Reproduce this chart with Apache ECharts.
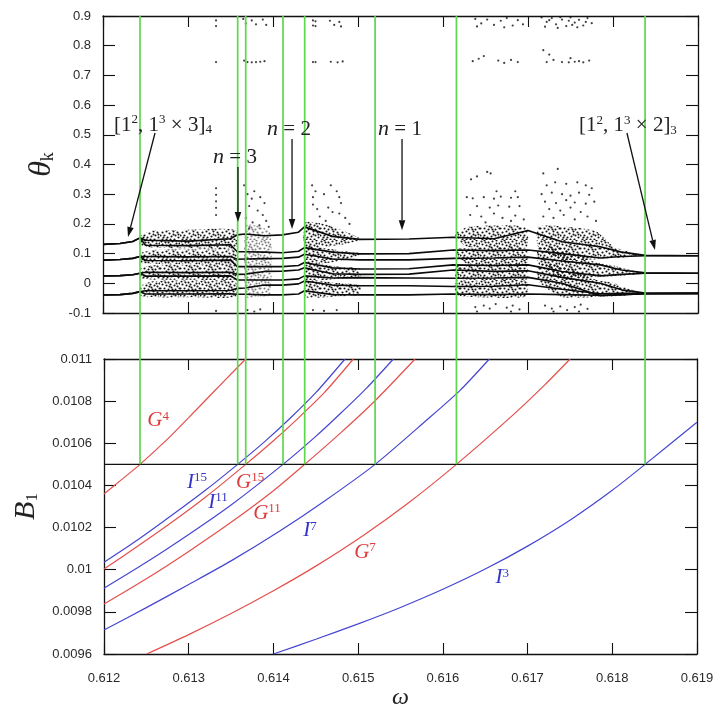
<!DOCTYPE html>
<html><head><meta charset="utf-8">
<script src="https://cdn.jsdelivr.net/npm/echarts@6/dist/echarts.min.js"></script>
<style>html,body{margin:0;padding:0;background:#fff}#c{width:721px;height:711px}</style>
</head><body><div id="c"></div>
<script>
// ---------------- DATA ----------------
const omegaRange = [0.612, 0.619];
const thetaRange = [-0.1, 0.9];
const bRange = [0.0096, 0.011];
const bThreshold = 0.0105;
const greenOmega = [0.612425, 0.613578, 0.613673, 0.614113, 0.614369, 0.6152, 0.61616, 0.618387];

// bottom panel curves [omega, B1]
const curveG4  = [[0.612,0.010359],[0.6122,0.010425],[0.612425,0.0105],[0.61274,0.010616],[0.613,0.010722],[0.613133,0.010777],[0.6134,0.010888],[0.613673,0.011]];
const curveI15 = [[0.612,0.010035],[0.6124,0.010142],[0.6128,0.010258],[0.6132,0.010378],[0.613578,0.0105],[0.6139,0.010609],[0.6142,0.01072],[0.6145,0.01084],[0.614845,0.011]];
const curveG15 = [[0.612,0.010003],[0.6124,0.010112],[0.6128,0.010225],[0.6132,0.010345],[0.613673,0.0105],[0.614,0.010612],[0.6143,0.010722],[0.6146,0.01084],[0.614943,0.011]];
const curveI11 = [[0.612,0.009912],[0.6125,0.010035],[0.613,0.010167],[0.6135,0.010307],[0.614113,0.0105],[0.6145,0.010633],[0.6148,0.010745],[0.6151,0.010862],[0.615416,0.011]];
const curveG11 = [[0.612,0.009837],[0.6125,0.009957],[0.613,0.010087],[0.6135,0.010225],[0.614,0.010375],[0.614369,0.0105],[0.6148,0.010652],[0.6152,0.010802],[0.615672,0.011]];
const curveI7  = [[0.612,0.009714],[0.6125,0.00982],[0.613,0.00993],[0.6135,0.010042],[0.61408,0.010185],[0.6146,0.010325],[0.6152,0.0105],[0.6158,0.010707],[0.6162,0.01085],[0.616549,0.011]];
const curveG7  = [[0.612504,0.0096],[0.613,0.009692],[0.6135,0.009792],[0.614,0.0099],[0.6145,0.010017],[0.615069,0.010165],[0.6156,0.010319],[0.61616,0.0105],[0.6168,0.010724],[0.6172,0.010876],[0.617502,0.011]];
const curveI3  = [[0.614,0.0096],[0.6145,0.00967],[0.615,0.009743],[0.6155,0.009821],[0.616,0.009907],[0.6165,0.010003],[0.617,0.010112],[0.6175,0.010235],[0.618,0.010377],[0.618387,0.0105],[0.619,0.0107]];

// top panel: periodic-orbit branches theta_k at these omega knots
const branchKnots = [0.612,0.6122,0.61235,0.612435,0.6125,0.6130,0.6135,0.61358,0.61367,0.6139,0.61411,0.6143,0.61437,0.6147,0.61502,0.6156,0.61612,0.6166,0.6170,0.6174,0.61785,0.6181,0.61838,0.619];
const branch1 = [0.131,0.134,0.141,0.153,0.145,0.142,0.150,0.163,0.166,0.160,0.163,0.172,0.190,0.158,0.148,0.149,0.155,0.150,0.178,0.140,0.123,0.105,0.094,0.093];
const branch2 = [0.131,0.134,0.141,0.153,0.128,0.127,0.130,0.106,0.106,0.105,0.103,0.108,0.120,0.105,0.099,0.100,0.112,0.110,0.112,0.100,0.085,0.090,0.093,0.093];
const branch3 = [0.078,0.080,0.084,0.090,0.090,0.089,0.090,0.081,0.082,0.083,0.084,0.088,0.098,0.082,0.079,0.079,0.084,0.085,0.088,0.075,0.062,0.045,0.035,0.034];
const branch4 = [0.078,0.080,0.084,0.090,0.077,0.076,0.078,0.056,0.056,0.056,0.056,0.060,0.070,0.052,0.048,0.049,0.062,0.060,0.062,0.040,0.025,0.030,0.034,0.034];
const branch5 = [0.025,0.026,0.029,0.034,0.037,0.036,0.037,0.030,0.031,0.040,0.041,0.045,0.052,0.032,0.030,0.031,0.045,0.040,0.042,0.020,0.000,-0.022,-0.033,-0.034];
const branch6 = [0.025,0.026,0.029,0.034,0.024,0.024,0.025,0.011,0.011,0.011,0.011,0.015,0.025,0.018,0.019,0.018,0.017,0.018,0.020,0.000,-0.042,-0.038,-0.035,-0.034];
const branch7 = [-0.039,-0.038,-0.034,-0.028,-0.025,-0.025,-0.024,-0.017,-0.016,-0.006,-0.006,-0.002,0.008,-0.006,-0.008,-0.008,-0.011,-0.010,-0.005,-0.020,-0.035,-0.034,-0.034,-0.034];
const branch8 = [-0.039,-0.038,-0.034,-0.028,-0.036,-0.036,-0.035,-0.037,-0.037,-0.039,-0.039,-0.036,-0.025,-0.038,-0.039,-0.039,-0.036,-0.038,-0.036,-0.038,-0.040,-0.038,-0.035,-0.034];

// chaotic bands (outline of dense scatter), [omega, theta] vertices
const chaosBands = [
  [[0.61244,0.160],[0.6126,0.178],[0.6130,0.180],[0.6133,0.184],[0.61356,0.178],[0.61356,0.120],[0.6130,0.118],[0.61244,0.125]],
  [[0.61244,0.100],[0.6126,0.112],[0.6133,0.113],[0.61356,0.110],[0.61356,0.066],[0.6130,0.065],[0.61244,0.068]],
  [[0.61244,0.050],[0.6126,0.061],[0.6133,0.062],[0.61356,0.060],[0.61356,0.014],[0.6130,0.012],[0.61244,0.016]],
  [[0.61244,-0.010],[0.6126,0.008],[0.6133,0.009],[0.61356,0.006],[0.61356,-0.045],[0.6130,-0.047],[0.61244,-0.044]],
  [[0.61368,0.195],[0.61385,0.190],[0.61397,0.170],[0.61397,-0.040],[0.61385,-0.045],[0.61368,-0.045]],
  [[0.61438,0.205],[0.6146,0.200],[0.6148,0.180],[0.61502,0.152],[0.61502,0.144],[0.6148,0.130],[0.61438,0.122]],
  [[0.61438,0.118],[0.6146,0.118],[0.6148,0.110],[0.61502,0.102],[0.61502,0.096],[0.6148,0.075],[0.61438,0.066]],
  [[0.61438,0.062],[0.6146,0.062],[0.6148,0.056],[0.61502,0.050],[0.61502,0.020],[0.6148,0.015],[0.61438,0.012]],
  [[0.61438,0.008],[0.6146,0.006],[0.6148,0.000],[0.61502,-0.006],[0.61502,-0.038],[0.6148,-0.044],[0.61438,-0.046]],
  [[0.61615,0.170],[0.6163,0.190],[0.6166,0.195],[0.61698,0.188],[0.61698,0.122],[0.6163,0.122],[0.61615,0.150]],
  [[0.61615,0.115],[0.6163,0.118],[0.61698,0.116],[0.61698,0.065],[0.6163,0.064],[0.61615,0.098]],
  [[0.61615,0.060],[0.6163,0.062],[0.61698,0.062],[0.61698,0.012],[0.6163,0.012],[0.61615,0.020]],
  [[0.61615,0.008],[0.6163,0.008],[0.61698,0.007],[0.61698,-0.045],[0.6163,-0.046],[0.61615,-0.038]],
  [[0.61712,0.190],[0.6174,0.192],[0.6178,0.175],[0.6180,0.125],[0.6182,0.105],[0.61836,0.094],[0.61836,0.092],[0.6180,0.085],[0.6174,0.078],[0.61712,0.122]],
  [[0.61712,0.118],[0.6174,0.118],[0.6178,0.070],[0.6180,0.060],[0.6182,0.045],[0.61836,0.036],[0.61836,0.032],[0.6180,0.024],[0.6174,0.020],[0.61712,0.066]],
  [[0.61712,0.062],[0.6174,0.062],[0.6178,0.012],[0.6180,0.002],[0.6182,-0.020],[0.61836,-0.032],[0.61836,-0.036],[0.6180,-0.044],[0.6174,-0.046],[0.61712,0.008]]
];

// sparse scattered iterates [omega, theta]
const sparsePoints = [
  [0.61333,0.885],[0.61333,0.866],[0.61333,0.745],[0.61333,0.32],[0.61333,0.298],[0.61333,0.276],[0.61333,0.254],[0.61333,0.23],[0.61333,-0.093],
  [0.61365,0.89],[0.61368,0.875],[0.61375,0.885],[0.6138,0.872],[0.61388,0.888],[0.61392,0.87],
  [0.61366,0.75],[0.6137,0.745],[0.61375,0.744],[0.6138,0.745],[0.61385,0.746],[0.6139,0.748],
  [0.61366,0.33],[0.6137,0.3],[0.61375,0.285],[0.61378,0.31],[0.61385,0.29],[0.6139,0.27],[0.61372,0.26],[0.61382,0.245],[0.61388,0.23],[0.61368,0.22],[0.61376,0.205],[0.61392,0.21],[0.61384,0.195],[0.61395,0.19],[0.61372,0.185],
  [0.6137,-0.09],[0.61378,-0.095],[0.61385,-0.088],
  [0.61447,0.885],[0.61447,0.868],[0.6145,0.882],[0.6145,0.866],[0.61467,0.884],[0.61472,0.87],[0.61478,0.88],[0.6148,0.865],
  [0.61447,0.745],[0.6145,0.745],[0.61468,0.746],[0.61476,0.744],[0.61482,0.747],
  [0.61446,0.33],[0.6145,0.31],[0.61447,0.29],[0.6146,0.3],[0.61468,0.33],[0.61475,0.31],[0.61478,0.29],[0.6148,0.27],[0.61447,0.265],[0.61452,0.25],[0.61465,0.255],[0.6147,0.24],[0.61478,0.235],[0.61485,0.22],[0.61455,0.225],[0.61462,0.21],[0.6149,0.2],
  [0.61447,-0.09],[0.6146,-0.093],[0.61475,-0.09],
  [0.61638,0.89],[0.61645,0.875],[0.61652,0.888],[0.6166,0.87],[0.61668,0.884],[0.61675,0.893],[0.61682,0.868],[0.61688,0.886],[0.61694,0.872],[0.6164,0.865],[0.61672,0.862],
  [0.61716,0.895],[0.61722,0.88],[0.61728,0.893],[0.61733,0.872],[0.6174,0.888],[0.61745,0.866],[0.6175,0.895],[0.61755,0.878],[0.6176,0.887],[0.61765,0.868],[0.6177,0.893],[0.61775,0.876],[0.6172,0.864],[0.61735,0.86],[0.61748,0.884],[0.61758,0.862],[0.61768,0.88],[0.61725,0.886],[0.61738,0.896],[0.61752,0.87],
  [0.61635,0.748],[0.61642,0.756],[0.61648,0.765],[0.61665,0.75],[0.61672,0.742],[0.6168,0.752],[0.61688,0.745],
  [0.61718,0.785],[0.61725,0.77],[0.6173,0.752],[0.61722,0.745],[0.6174,0.745],[0.61748,0.744],[0.61755,0.746],[0.6176,0.748],[0.61765,0.744],[0.61772,0.75],[0.6175,0.758],
  [0.61633,0.35],[0.6164,0.36],[0.61652,0.375],[0.61656,0.37],[0.61628,0.29],[0.61635,0.286],[0.61648,0.29],[0.6166,0.285],[0.61668,0.292],[0.6168,0.288],[0.61688,0.29],[0.61663,0.31],[0.61685,0.31],[0.6164,0.26],[0.61655,0.255],[0.61665,0.262],[0.61678,0.258],[0.6169,0.26],[0.61632,0.23],[0.61645,0.225],[0.6166,0.235],[0.6167,0.22],[0.61685,0.228],[0.61695,0.215],[0.6165,0.205],[0.6168,0.21],
  [0.61718,0.37],[0.61735,0.385],[0.61722,0.33],[0.61732,0.34],[0.61745,0.335],[0.61758,0.34],[0.61768,0.33],[0.61775,0.32],[0.61716,0.3],[0.61728,0.305],[0.6174,0.3],[0.6175,0.295],[0.6176,0.305],[0.61772,0.298],[0.6172,0.275],[0.61733,0.27],[0.61745,0.28],[0.61755,0.272],[0.61768,0.268],[0.61778,0.275],[0.61725,0.25],[0.61738,0.245],[0.6175,0.255],[0.61762,0.24],[0.61718,0.225],[0.6173,0.22],[0.61742,0.23],[0.61755,0.215],[0.6177,0.225],[0.6178,0.21],
  [0.61638,-0.08],[0.61648,-0.075],[0.61655,-0.085],[0.61662,-0.07],[0.61675,-0.082],[0.61682,-0.075],[0.6169,-0.088],[0.6172,-0.075],[0.61728,-0.085],[0.61738,-0.078],[0.61746,-0.09],[0.61755,-0.08],[0.61762,-0.072],[0.6177,-0.086],[0.6164,-0.095],[0.6168,-0.095],[0.6173,-0.095],[0.6176,-0.095]
];

// annotations in the top panel
const topLabelTexts = ['[1{s|2}, 1{s|3} × 3]{u|4}', '{i|n} = 3', '{i|n} = 2', '{i|n} = 1', '[1{s|2}, 1{s|3} × 2]{u|3}'];
const topLabelAnchors = [[0.612706,0.533],[0.613553,0.425],[0.614188,0.519],[0.615494,0.519],[0.618176,0.530]];
const topArrows = [[0.612612,0.506,0.612294,0.156],[0.613588,0.392,0.613588,0.206],[0.614224,0.486,0.614224,0.183],[0.615518,0.486,0.615518,0.179],[0.618164,0.506,0.618494,0.112]];

// curve labels in the bottom panel
const curveLabelNames = ['G','I','G','I','G','I','G','I'];
const curveLabelPowers = ['4','15','15','11','11','7','7','3'];
const curveLabelAnchors = [[0.612638,0.01071],[0.613098,0.010416],[0.613724,0.010416],[0.613346,0.010321],[0.613924,0.010269],[0.614432,0.010188],[0.615081,0.010084],[0.6167,0.009965]];

// ---------------- CHART ----------------
const RED = '#e4504c', BLUE = '#4646d2', GREEN = '#5cd84c';
const gridTop = {left:103, top:16, width:595, height:297};
const gridBot = {left:104, top:359, width:593, height:295};

function stipple(alpha){
  const c = document.createElement('canvas'); c.width = 20; c.height = 20;
  const g = c.getContext('2d'); g.fillStyle = 'rgba(0,0,0,' + alpha + ')';
  const dots = [[1,1],[4,0],[8,2],[12,1],[16,0],[19,3],[2,4],[6,5],[10,4],[14,5],[17,6],[0,8],[4,8],[8,9],[11,7],[15,9],[19,8],
    [2,12],[6,11],[9,13],[13,11],[17,12],[0,15],[4,15],[7,17],[11,16],[15,15],[18,17],[2,19],[6,19],[10,19],[14,19],[18,14],[5,2],[13,14],[9,6],[16,3],[12,9],[3,17]];
  dots.forEach(d => { g.beginPath(); g.arc(d[0]+0.5, d[1]+0.5, 1.05, 0, Math.PI*2); g.fill(); });
  return c;
}
const stipDark = stipple(0.92), stipLight = stipple(0.5);

const chart = echarts.init(document.getElementById('c'));
const tickStyle = {color:'#111', width:1.1};
const labelFont = {fontFamily:'Liberation Sans, Arial, sans-serif', fontSize:13, color:'#2a2a2a'};

function xAx(gi, pos, labels){
  return {type:'value', gridIndex:gi, position:pos, min:omegaRange[0], max:omegaRange[1], interval:0.001,
    axisLine:{show:true, onZero:false, lineStyle:{color:'#111', width:1.3}},
    axisTick:{show:true, inside:true, length:11, lineStyle:tickStyle},
    axisLabel:{show:labels, margin:18, formatter:v=>v.toFixed(3), ...labelFont},
    splitLine:{show:false}};
}
function yAx(gi, pos, labels, rng, iv, fmt){
  return {type:'value', gridIndex:gi, position:pos, min:rng[0], max:rng[1], interval:iv,
    axisLine:{show:true, onZero:false, lineStyle:{color:'#111', width:1.3}},
    axisTick:{show:true, inside:true, length:12, lineStyle:tickStyle},
    axisLabel:{show:labels, margin:12, formatter:fmt, ...labelFont},
    splitLine:{show:false}};
}
const fmtTheta = v => String(Math.round(v*10)/10);
const fmtB = v => String(parseFloat(v.toFixed(5)));

const xAxes = [xAx(0,'bottom',false), xAx(0,'top',false), xAx(1,'bottom',true), xAx(1,'top',false)];
xAxes[2].name = '{w|ω}';
xAxes[2].nameLocation = 'middle';
xAxes[2].nameGap = 26;
xAxes[2].nameTextStyle = {rich:{w:{fontFamily:'Liberation Serif', fontStyle:'italic', fontSize:24, color:'#222'}}};
const yAxes = [yAx(0,'left',true,thetaRange,0.1,fmtTheta), yAx(0,'right',false,thetaRange,0.1,fmtTheta),
               yAx(1,'left',true,bRange,0.0002,fmtB), yAx(1,'right',false,bRange,0.0002,fmtB)];
yAxes[0].name = '{t|θ}{k|k}';
yAxes[0].nameLocation = 'middle'; yAxes[0].nameGap = 42; yAxes[0].nameRotate = 90;
yAxes[0].nameTextStyle = {rich:{t:{fontFamily:'Liberation Serif', fontStyle:'italic', fontSize:32, color:'#222'},
  k:{fontFamily:'Liberation Serif', fontSize:18, color:'#222', verticalAlign:'bottom', padding:[12,0,0,0]}}};
yAxes[2].name = '{t|B}{k|1}';
yAxes[2].nameLocation = 'middle'; yAxes[2].nameGap = 62; yAxes[2].nameRotate = 90;
yAxes[2].nameTextStyle = {rich:{t:{fontFamily:'Liberation Serif', fontStyle:'italic', fontSize:30, color:'#222'},
  k:{fontFamily:'Liberation Serif', fontSize:17, color:'#222', verticalAlign:'bottom', padding:[12,0,0,0]}}};

const series = [];
series.push({type:'custom', xAxisIndex:0, yAxisIndex:0, z:1, silent:true,
  data: chaosBands.map((b,i)=>[b[0][0], b[0][1], i]),
  encode:{x:0, y:1},
  renderItem:(params, api)=>{
    const i = api.value(2);
    const pts = chaosBands[i].map(p=>api.coord(p));
    return {type:'polygon', shape:{points:pts, smooth:0.2},
      style:{fill:{image: i===4 ? stipLight : stipDark, repeat:'repeat'}, stroke:null}};
  }});
series.push({type:'scatter', xAxisIndex:0, yAxisIndex:0, z:2, silent:true, symbol:'circle', symbolSize:2.2,
  itemStyle:{color:'#111'}, data: sparsePoints});
[branch1,branch2,branch3,branch4,branch5,branch6,branch7,branch8].forEach(b=>{
  series.push({type:'line', xAxisIndex:0, yAxisIndex:0, z:3, silent:true, showSymbol:false,
    lineStyle:{color:'#0a0a0a', width:1.6}, data: branchKnots.map((w,i)=>[w, b[i]])});
});
series.push({type:'line', xAxisIndex:2, yAxisIndex:2, z:4, silent:true, showSymbol:false,
  lineStyle:{color:'#111', width:1.3}, data:[[omegaRange[0], bThreshold],[omegaRange[1], bThreshold]]});
const curves = [[curveG4,RED],[curveI15,BLUE],[curveG15,RED],[curveI11,BLUE],[curveG11,RED],[curveI7,BLUE],[curveG7,RED],[curveI3,BLUE]];
curves.forEach(c=>{
  series.push({type:'line', xAxisIndex:2, yAxisIndex:2, z:3, silent:true, showSymbol:false, smooth:0.25,
    lineStyle:{color:c[1], width:1.2}, data:c[0]});
});
series.push({type:'custom', xAxisIndex:2, yAxisIndex:2, z:20, silent:true, clip:false,
  data: greenOmega.map(w=>[w, bThreshold]), encode:{x:0, y:1},
  renderItem:(params, api)=>{
    const p = api.coord([api.value(0), api.value(1)]);
    return {type:'line', shape:{x1:p[0], y1:gridTop.top, x2:p[0], y2:p[1]},
      style:{stroke:GREEN, lineWidth:1.7}};
  }});
series.push({type:'custom', xAxisIndex:0, yAxisIndex:0, z:25, silent:true, clip:false,
  data: topArrows.map(a=>[a[0],a[1],a[2],a[3]]), encode:{x:0, y:1},
  renderItem:(params, api)=>{
    const p0 = api.coord([api.value(0), api.value(1)]);
    const p1 = api.coord([api.value(2), api.value(3)]);
    const ang = Math.atan2(p1[1]-p0[1], p1[0]-p0[0]);
    const L = 10, W = 3.3;
    const bx = p1[0]-L*Math.cos(ang), by = p1[1]-L*Math.sin(ang);
    const head = [[p1[0],p1[1]],[bx - W*Math.sin(ang), by + W*Math.cos(ang)],[bx + W*Math.sin(ang), by - W*Math.cos(ang)]];
    return {type:'group', children:[
      {type:'line', shape:{x1:p0[0], y1:p0[1], x2:bx, y2:by}, style:{stroke:'#111', lineWidth:1.3}},
      {type:'polygon', shape:{points:head}, style:{fill:'#111'}}
    ]};
  }});
const serif = 'Liberation Serif, DejaVu Serif, serif';
series.push({type:'custom', xAxisIndex:0, yAxisIndex:0, z:25, silent:true, clip:false,
  data: topLabelAnchors.map((a,i)=>[a[0],a[1],i]), encode:{x:0, y:1},
  renderItem:(params, api)=>{
    const p = api.coord([api.value(0), api.value(1)]);
    return {type:'text', x:p[0], y:p[1], style:{text: topLabelTexts[api.value(2)],
      align:'center', verticalAlign:'middle', fill:'#222', fontFamily:serif, fontSize:21,
      rich:{ s:{fontFamily:serif, fontSize:13, fill:'#222', verticalAlign:'top'},
             u:{fontFamily:serif, fontSize:13, fill:'#222', verticalAlign:'bottom', padding:[10,0,0,0]},
             i:{fontFamily:serif, fontStyle:'italic', fontSize:22, fill:'#222'} }}};
  }});
series.push({type:'custom', xAxisIndex:2, yAxisIndex:2, z:25, silent:true, clip:false,
  data: curveLabelAnchors.map((a,i)=>[a[0],a[1],i]), encode:{x:0, y:1},
  renderItem:(params, api)=>{
    const i = api.value(2);
    const p = api.coord([api.value(0), api.value(1)]);
    const col = curveLabelNames[i]==='G' ? '#de3b3b' : '#3434c8';
    return {type:'text', x:p[0], y:p[1], style:{text: '{b|'+curveLabelNames[i]+'}{s|'+curveLabelPowers[i]+'}',
      align:'center', verticalAlign:'middle',
      rich:{ b:{fontFamily:serif, fontStyle:'italic', fontSize:21, fill:col},
             s:{fontFamily:serif, fontSize:13, fill:col, verticalAlign:'top'} }}};
  }});

chart.setOption({
  animation:false,
  backgroundColor:'#fff',
  grid:[gridTop, gridBot],
  xAxis:xAxes, yAxis:yAxes,
  series
});
</script></body></html>
